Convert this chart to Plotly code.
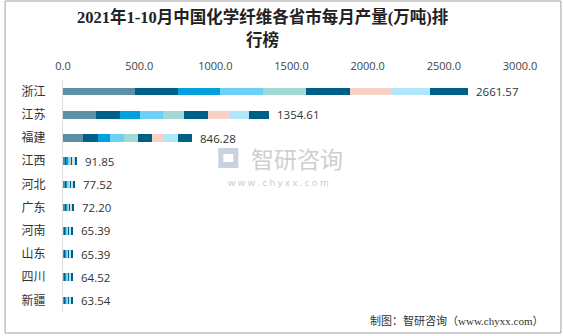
import plotly.graph_objects as go

provinces = ["浙江", "江苏", "福建", "江西", "河北", "广东", "河南", "山东", "四川", "新疆"]
months = ["1-2月", "3月", "4月", "5月", "6月", "7月", "8月", "9月", "10月"]

# monthly output (10k tons) per province, one list per period
m12 = [473.8, 218.5, 131.2, 17.0, 15.2, 13.6, 12.8, 12.5, 12.4, 12.3]
m3 = [281.7, 152.9, 96.2, 9.2, 7.6, 7.4, 6.5, 6.7, 6.5, 6.4]
m4 = [275.1, 135.5, 83.1, 9.0, 7.8, 7.3, 6.6, 6.6, 6.4, 6.3]
m5 = [281.7, 148.6, 91.8, 9.3, 7.9, 7.2, 6.5, 6.6, 6.6, 6.5]
m6 = [281.7, 142.0, 87.5, 9.4, 7.7, 7.3, 6.4, 6.5, 6.5, 6.4]
m7 = [288.2, 155.1, 94.0, 9.6, 7.8, 7.4, 6.6, 6.7, 6.4, 6.3]
m8 = [272.9, 144.2, 80.9, 9.5, 7.6, 7.3, 6.5, 6.6, 6.6, 6.4]
m9 = [251.1, 126.7, 87.5, 9.3, 7.9, 7.2, 6.7, 6.5, 6.5, 6.5]
m10 = [255.5, 131.1, 94.0, 9.55, 8.02, 7.5, 6.79, 6.69, 6.62, 6.44]
totals = [2661.57, 1354.61, 846.28, 91.85, 77.52, 72.20, 65.39, 65.39, 64.52, 63.54]

series = [m12, m3, m4, m5, m6, m7, m8, m9, m10]
colors = ["#5f8fa5", "#005f86", "#00a1dc", "#6ccff5", "#a3d9d4",
          "#005f86", "#f9d0c6", "#b1e6fa", "#005f86"]

W, H = 563, 336
L, R, T, B = 62.5, 43, 80, 24
PW, PH = W - L - R, H - T - B


def px(x):
    return (x - L) / PW


def py(y):
    return 1 - (y - T) / PH


fig = go.Figure()
for name, vals, c in zip(months, series, colors):
    fig.add_trace(go.Bar(y=provinces, x=vals, name=name, orientation="h",
                         marker=dict(color=c, line=dict(width=0))))

for p, t in zip(provinces, totals):
    fig.add_annotation(x=t, y=p, text=f"{t:.2f}", showarrow=False,
                       xanchor="left", xshift=6,
                       font=dict(size=11.5, color="#333333",
                                 family="Open Sans, Noto Sans CJK SC"))

fig.update_layout(
    width=W, height=H,
    barmode="stack", bargap=0.67,
    showlegend=False,
    paper_bgcolor="white", plot_bgcolor="white",
    margin=dict(l=L, r=R, t=T, b=B),
    xaxis=dict(side="top", range=[0, 3000], dtick=500, tickformat=".1f",
               showgrid=False, zeroline=False, showline=False, ticks="",
               ticklabelstandoff=7,
               tickfont=dict(size=11, color="#444444",
                             family="Open Sans, Noto Sans CJK SC")),
    yaxis=dict(autorange="reversed", showgrid=False, showline=True,
               linecolor="#dddddd", linewidth=1, ticks="", ticklabelstandoff=14,
               tickfont=dict(size=12, color="#333333",
                             family="Noto Sans CJK SC")),
    font=dict(family="Noto Sans CJK SC"),
)

# title
fig.add_annotation(xref="paper", yref="paper", x=px(262), y=py(17),
                   xanchor="center", yanchor="middle",
                   text="<b>2021年1-10月中国化学纤维各省市每月产量(万吨)排</b>",
                   showarrow=False,
                   font=dict(size=16.5, color="#222222",
                             family="Liberation Serif, Noto Sans CJK SC"))
fig.add_annotation(xref="paper", yref="paper", x=px(262), y=py(40),
                   xanchor="center", yanchor="middle",
                   text="<b>行榜</b>", showarrow=False,
                   font=dict(size=16.5, color="#222222",
                             family="Liberation Serif, Noto Sans CJK SC"))

# outer border
fig.add_shape(type="rect", xref="paper", yref="paper",
              x0=px(4.5), x1=px(561), y0=py(333), y1=py(1),
              line=dict(color="#a0a0a0", width=1))

# watermark logo
fig.add_shape(type="rect", xref="paper", yref="paper",
              x0=px(218), x1=px(238), y0=py(168), y1=py(148),
              line=dict(width=0), fillcolor="#c9d2df", layer="below")
fig.add_shape(type="rect", xref="paper", yref="paper",
              x0=px(223), x1=px(233), y0=py(162), y1=py(154),
              line=dict(width=0), fillcolor="white", layer="below")
fig.add_annotation(xref="paper", yref="paper", x=px(297), y=py(158),
                   xanchor="center", yanchor="middle",
                   text="智研咨询", showarrow=False,
                   font=dict(size=23, color="#cfcfcf", family="Noto Sans CJK SC"))
fig.add_annotation(xref="paper", yref="paper", x=px(278), y=py(182),
                   xanchor="center", yanchor="middle",
                   text="w w w . c h y x x . c o m", showarrow=False,
                   font=dict(size=9.5, color="#c8c8c8", family="Open Sans"))

# footer
fig.add_annotation(xref="paper", yref="paper", x=px(545), y=py(320),
                   xanchor="right", yanchor="middle",
                   text="制图：智研咨询（www.chyxx.com）", showarrow=False,
                   font=dict(size=11, color="#333333",
                             family="Liberation Serif, Noto Sans CJK SC"))

fig.write_html("out.html")
